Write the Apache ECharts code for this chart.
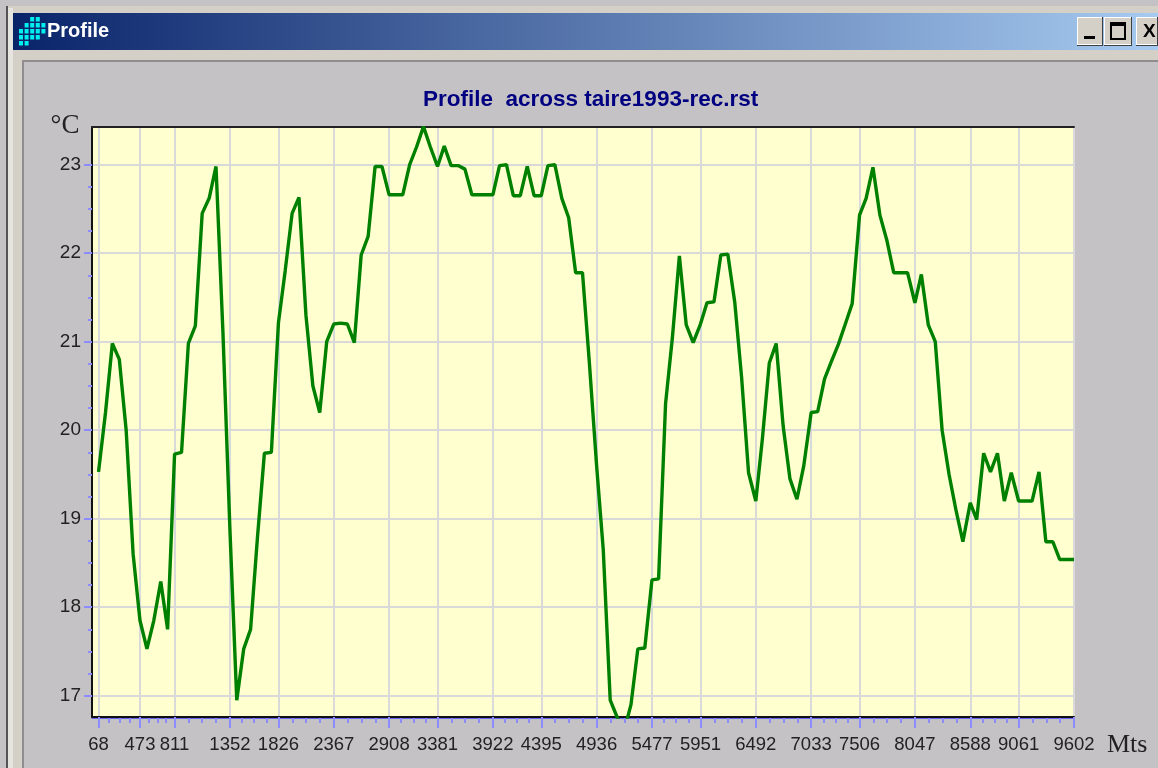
<!DOCTYPE html>
<html>
<head>
<meta charset="utf-8">
<title>Profile</title>
<style>
  html, body { margin: 0; padding: 0; background: #fff; }
  #myChart { width: 1158px; height: 768px; }
</style>
<script src="https://cdn.jsdelivr.net/npm/echarts@6/dist/echarts.min.js"></script>
</head>
<body>
<div id="myChart"></div>
<script>
  // distance of each sample along the profile (metres)
  var distances = [
    68, 136, 203, 271, 338, 406, 473, 541, 608, 676, 743, 811, 879, 946, 1014, 1081, 1149, 1216, 1284, 1352,
    1419, 1487, 1554, 1622, 1689, 1757, 1826, 1892, 1960, 2027, 2095, 2163, 2230, 2298, 2367, 2433, 2500, 2568, 2635, 2703,
    2771, 2838, 2908, 2973, 3041, 3109, 3176, 3244, 3311, 3381, 3447, 3514, 3582, 3649, 3717, 3785, 3852, 3922, 3987, 4055,
    4122, 4190, 4258, 4325, 4395, 4460, 4528, 4596, 4663, 4731, 4798, 4866, 4936, 5001, 5069, 5136, 5204, 5272, 5339, 5407,
    5477, 5542, 5610, 5677, 5745, 5812, 5880, 5951, 6015, 6083, 6150, 6218, 6286, 6353, 6421, 6492, 6556, 6624, 6691, 6759,
    6826, 6894, 6961, 7033, 7097, 7164, 7232, 7299, 7367, 7434, 7506, 7570, 7637, 7705, 7772, 7840, 7908, 7975, 8047, 8110,
    8178, 8246, 8313, 8381, 8448, 8516, 8588, 8651, 8719, 8786, 8854, 8921, 8989, 9061, 9124, 9192, 9260, 9327, 9395, 9462,
    9530, 9602
  ];

  // temperature read at each sample (deg C)
  var temperatures = [
    19.53, 20.2, 20.98, 20.8, 20.0, 18.6, 17.85, 17.53, 17.85, 18.29, 17.75, 19.73, 19.75, 20.98, 21.18, 22.45, 22.62, 22.98, 21.1, 18.88,
    16.95, 17.53, 17.75, 18.8, 19.74, 19.75, 21.21, 21.8, 22.45, 22.63, 21.3, 20.5, 20.2, 21.0, 21.2, 21.21, 21.2, 20.99, 21.98, 22.19,
    22.98, 22.98, 22.66, 22.66, 22.66, 23.0, 23.2, 23.43, 23.2, 22.98, 23.21, 22.99, 22.99, 22.95, 22.66, 22.66, 22.66, 22.66, 22.99, 23.0,
    22.65, 22.65, 22.98, 22.65, 22.65, 22.99, 23.0, 22.62, 22.4, 21.78, 21.78, 20.75, 19.6, 18.65, 16.95, 16.76, 16.6, 16.9, 17.53, 17.54,
    18.31, 18.32, 20.3, 21.05, 21.97, 21.19, 20.99, 21.2, 21.44, 21.45, 21.98, 21.99, 21.45, 20.6, 19.52, 19.2, 19.9, 20.76, 20.98, 20.05,
    19.45, 19.22, 19.6, 20.2, 20.21, 20.58, 20.78, 20.97, 21.2, 21.43, 22.43, 22.62, 22.97, 22.43, 22.15, 21.78, 21.78, 21.78, 21.44, 21.76,
    21.19, 21.0, 20.0, 19.5, 19.1, 18.74, 19.18, 18.99, 19.74, 19.53, 19.74, 19.2, 19.52, 19.2, 19.2, 19.2, 19.53, 18.74, 18.74, 18.54,
    18.54, 18.54
  ];

  var xTickValues = [68, 473, 811, 1352, 1826, 2367, 2908, 3381, 3922, 4395, 4936, 5477, 5951, 6492, 7033, 7506, 8047, 8588, 9061, 9602];
  var yTickValues = [17, 18, 19, 20, 21, 22, 23];

  // 3 small ticks between each pair of big ticks
  function minorTicks(ticks) {
    var out = [];
    for (var i = 0; i < ticks.length - 1; i++) {
      for (var j = 1; j < 4; j++) {
        out.push(ticks[i] + (ticks[i + 1] - ticks[i]) * j / 4);
      }
    }
    return out;
  }

  var lineData = distances.map(function (d, i) { return [d, temperatures[i]]; });

  // little dotted icon of the title bar: [col, row]
  var iconDots = [
    [2, 0], [3, 0],
    [1, 1], [2, 1], [3, 1], [4, 1],
    [0, 2], [1, 2], [2, 2], [3, 2], [4, 2],
    [0, 3], [1, 3], [2, 3], [3, 3],
    [0, 4], [1, 4]
  ];

  function rect(x, y, w, h, fill) {
    return { type: 'rect', shape: { x: x, y: y, width: w, height: h }, style: { fill: fill }, silent: true };
  }

  // 3d look window button
  function button(x, w) {
    return [
      rect(x, 17, w, 29, '#404040'),
      rect(x, 17, w - 1, 28, '#ffffff'),
      rect(x + 1, 18, w - 2, 26, '#d4d0c8')
    ];
  }

  var chrome = [
    rect(6, 6, 1152, 7, '#d4d0c8'),
    rect(6, 6, 2, 762, '#555555'),
    rect(8, 8, 5, 760, '#e6e4df'),
    rect(13, 50, 1145, 11, '#d4d0c8'),
    rect(13, 50, 10, 718, '#d4d0c8'),
    rect(23, 60, 1135, 2, '#8f8d8f'),
    rect(22, 60, 2, 708, '#8f8d8f'),
    {
      type: 'rect',
      shape: { x: 13, y: 13, width: 1145, height: 37 },
      style: {
        fill: new echarts.graphic.LinearGradient(0, 0, 1, 0, [
          { offset: 0, color: '#0a246a' },
          { offset: 1, color: '#a6caf0' }
        ])
      },
      silent: true
    },
    { type: 'text', x: 47, y: 31, style: { text: 'Profile', fill: '#fff', font: 'bold 20px "Liberation Sans"', verticalAlign: 'middle' } }
  ];
  iconDots.forEach(function (p) {
    chrome.push(rect(19 + p[0] * 5.6, 17 + p[1] * 6, 4, 4.5, '#00f0f0'));
  });
  chrome = chrome.concat(button(1077, 26), button(1104, 28), button(1136, 22));
  chrome.push(rect(1084, 36, 11, 3, '#000'));
  chrome.push(rect(1110, 22, 16, 18, '#000'));
  chrome.push(rect(1112, 26, 12, 12, '#d4d0c8'));
  chrome.push({ type: 'text', x: 1143, y: 32, style: { text: 'X', fill: '#000', font: 'bold 19px "Liberation Sans"', align: 'left', verticalAlign: 'middle' } });

  var myChart = echarts.init(document.getElementById('myChart'));
  myChart.setOption({
    animation: false,
    backgroundColor: '#c4c2c4',
    textStyle: { fontFamily: 'Liberation Sans' },
    title: {
      text: 'Profile  across taire1993-rec.rst',
      left: 423,
      top: 88,
      padding: 0,
      textStyle: { color: '#000080', fontSize: 22.5, fontWeight: 'bold', fontFamily: 'Liberation Sans' }
    },
    graphic: chrome,
    grid: {
      show: true,
      left: 92,
      right: 84,
      top: 127,
      bottom: 51,
      backgroundColor: '#ffffcf',
      borderWidth: 0
    },
    xAxis: [
      {
        type: 'value',
        min: 4,
        max: 9602,
        name: 'Mts',
        nameLocation: 'end',
        nameGap: 33,
        nameTextStyle: { fontFamily: 'Liberation Serif', fontSize: 26, color: '#222', verticalAlign: 'top', padding: [15, 0, 0, 0] },
        axisLine: { show: true, lineStyle: { color: '#111', width: 2 } },
        axisTick: { show: true, length: 11, customValues: xTickValues, lineStyle: { color: '#8c8cff', width: 2 } },
        axisLabel: {
          show: true,
          customValues: xTickValues,
          fontSize: 18.5,
          color: '#222',
          margin: 18,
          hideOverlap: false,
          formatter: function (v) { return String(v); }
        },
        splitLine: { show: true, lineStyle: { color: '#d9d9d9', width: 2 } }
      },
      {
        type: 'value',
        min: 4,
        max: 9602,
        position: 'bottom',
        offset: 1,
        axisLine: { show: true, lineStyle: { color: '#6464f0', width: 1 } },
        axisTick: { show: true, length: 5, customValues: minorTicks(xTickValues), lineStyle: { color: '#8c8cff', width: 2 } },
        axisLabel: { show: false },
        splitLine: { show: false }
      },
      {
        type: 'value',
        min: 4,
        max: 9602,
        position: 'top',
        axisLine: { show: true, lineStyle: { color: '#222', width: 2 } },
        axisTick: { show: false },
        axisLabel: { show: false },
        splitLine: { show: false }
      }
    ],
    yAxis: [
      {
        type: 'value',
        min: 16.76,
        max: 23.426,
        name: '°C',
        nameLocation: 'end',
        nameGap: -12,
        nameTextStyle: { fontFamily: 'Liberation Serif', fontSize: 27, color: '#222', padding: [0, 54, 0, 0] },
        axisLine: { show: true, lineStyle: { color: '#111', width: 2 } },
        axisTick: { show: true, length: 8, customValues: yTickValues, lineStyle: { color: '#8c8cff', width: 2 } },
        axisLabel: { show: true, customValues: yTickValues, fontSize: 19, color: '#222', margin: 11, padding: [4, 0, 0, 0] },
        splitLine: { show: true, lineStyle: { color: '#d9d9d9', width: 2 } }
      },
      {
        type: 'value',
        min: 16.76,
        max: 23.426,
        position: 'left',
        axisLine: { show: false },
        axisTick: { show: true, length: 4, customValues: minorTicks(yTickValues), lineStyle: { color: '#8c8cff', width: 2 } },
        axisLabel: { show: false },
        splitLine: { show: false }
      }
    ],
    series: [
      {
        name: 'Profile',
        type: 'line',
        data: lineData,
        showSymbol: false,
        lineStyle: { color: '#008000', width: 3.4 },
        itemStyle: { color: '#008000' }
      }
    ]
  });
</script>
</body>
</html>
